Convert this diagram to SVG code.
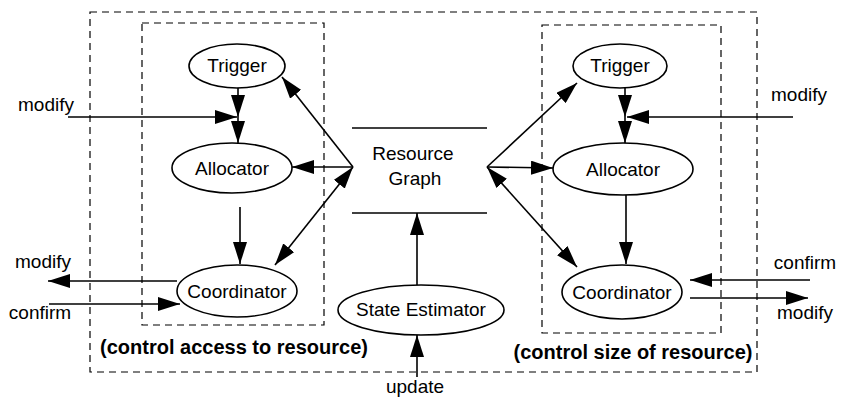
<svg xmlns="http://www.w3.org/2000/svg" width="841" height="399" viewBox="0 0 841 399">
<style>
.box{fill:none;stroke:#000;stroke-width:1.2;stroke-dasharray:7 5}
.node{fill:#fff;stroke:#000;stroke-width:1.6}
.t{font-family:"Liberation Sans",Arial,sans-serif;font-size:19px;fill:#000;text-anchor:middle}
.b{font-family:"Liberation Sans",Arial,sans-serif;font-size:20px;font-weight:bold;fill:#000;text-anchor:middle}
.e{fill:none;stroke:#000;stroke-width:1.6}
.a{marker-end:url(#ah)}
.d{marker-end:url(#ah);marker-start:url(#ah)}
</style>
<defs>
<marker id="ah" markerUnits="userSpaceOnUse" markerWidth="22" markerHeight="14" refX="22" refY="7" orient="auto-start-reverse" viewBox="0 0 22 14">
<path d="M0,0 L22,7 L0,14 z" fill="#000"/>
</marker>
</defs>
<g id="boxes">
<rect class="box" x="90" y="12" width="667" height="360"/>
<rect class="box" x="142" y="23" width="182" height="302"/>
<rect class="box" x="542" y="25" width="179" height="308"/>
<text class="b" x="234" y="354">(control access to resource)</text>
<text class="b" x="633" y="359">(control size of resource)</text>
</g>
<g id="connectors">
<line class="e a" x1="68" y1="117" x2="237" y2="117"/>
<line class="e a" x1="238" y1="88" x2="238" y2="117"/>
<line class="e a" x1="238" y1="117" x2="238" y2="143"/>
<line class="e a" x1="240" y1="207" x2="240" y2="264"/>
<line class="e a" x1="353" y1="167" x2="282" y2="77"/>
<line class="e a" x1="353" y1="167" x2="292" y2="167"/>
<line class="e d" x1="353" y1="167" x2="275" y2="265"/>
<line class="e a" x1="177" y1="281" x2="48" y2="281"/>
<line class="e a" x1="49" y1="304" x2="180" y2="304"/>
<line class="e a" x1="793" y1="117" x2="627" y2="117"/>
<line class="e a" x1="625" y1="88" x2="625" y2="117"/>
<line class="e a" x1="625" y1="117" x2="625" y2="143"/>
<line class="e a" x1="626" y1="195" x2="626" y2="264"/>
<line class="e a" x1="487" y1="167" x2="577" y2="83"/>
<line class="e a" x1="487" y1="167" x2="553" y2="168"/>
<line class="e d" x1="487" y1="167" x2="577" y2="267"/>
<line class="e a" x1="810" y1="280" x2="690" y2="280"/>
<line class="e a" x1="690" y1="298" x2="808" y2="298"/>
<line class="e a" x1="417" y1="285" x2="417" y2="213"/>
<line class="e a" x1="417" y1="377" x2="417" y2="335"/>
</g>
<g id="labels">
<text class="t" x="46" y="111">modify</text>
<text class="t" x="799" y="101">modify</text>
<text class="t" x="43" y="268">modify</text>
<text class="t" x="40" y="319">confirm</text>
<text class="t" x="805" y="269">confirm</text>
<text class="t" x="805" y="319">modify</text>
<text class="t" x="415" y="393">update</text>
</g>
<g id="resource-graph">
<line class="e" x1="352" y1="128" x2="487" y2="128"/>
<line class="e" x1="352" y1="213" x2="487" y2="213"/>
<text class="t" x="413" y="160">Resource</text>
<text class="t" x="415" y="185">Graph</text>
</g>
<g id="trigger-left">
<ellipse class="node" cx="237" cy="66" rx="48" ry="22"/>
<text class="t" x="237" y="72">Trigger</text>
</g>
<g id="allocator-left">
<ellipse class="node" cx="232" cy="168" rx="60" ry="25"/>
<text class="t" x="232" y="175">Allocator</text>
</g>
<g id="coordinator-left">
<ellipse class="node" cx="237" cy="291" rx="60" ry="26"/>
<text class="t" x="237" y="298">Coordinator</text>
</g>
<g id="trigger-right">
<ellipse class="node" cx="620" cy="66" rx="47" ry="22"/>
<text class="t" x="620" y="72">Trigger</text>
</g>
<g id="allocator-right">
<ellipse class="node" cx="623" cy="169" rx="70" ry="26"/>
<text class="t" x="623" y="176">Allocator</text>
</g>
<g id="coordinator-right">
<ellipse class="node" cx="622" cy="292" rx="60" ry="27"/>
<text class="t" x="622" y="299">Coordinator</text>
</g>
<g id="state-estimator">
<ellipse class="node" cx="421" cy="310" rx="83" ry="25"/>
<text class="t" x="421" y="316">State Estimator</text>
</g>
</svg>
